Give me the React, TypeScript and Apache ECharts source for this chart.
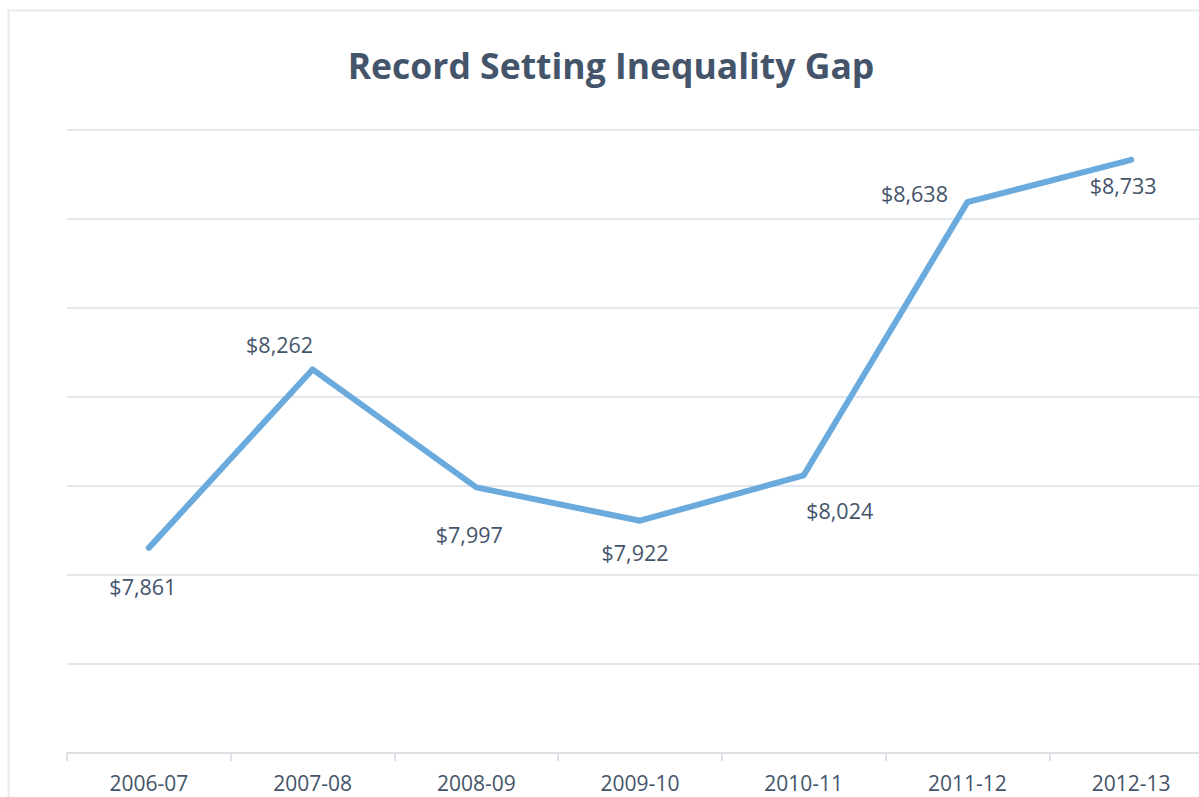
import React, { useEffect, useRef } from "react";
import * as echarts from "echarts";

const categories = ["2006-07", "2007-08", "2008-09", "2009-10", "2010-11", "2011-12", "2012-13"];
const gapValues = [7861, 8262, 7997, 7922, 8024, 8638, 8733];
const titleText = "Record Setting Inequality Gap";

// label offsets from each point (pixels), matching the reference placement
const labelOffsets: [number, number][] = [
  [-6, 39],
  [-33, -25],
  [-7, 47],
  [-5, 32],
  [36, 35],
  [-53, -9],
  [-8, 26],
];

const TEXT = "#44546A";
const FONT = "'Open Sans', 'Noto Sans', sans-serif";

export default function App() {
  const ref = useRef<HTMLDivElement>(null);
  useEffect(() => {
    if (!ref.current) return;
    const chart = echarts.init(ref.current, undefined, { renderer: "svg" });
    chart.setOption({
      animation: false,
      backgroundColor: "#ffffff",
      textStyle: { fontFamily: FONT },
      graphic: [
        {
          type: "rect",
          z: -10,
          shape: { x: 8.5, y: 10.5, width: 1400, height: 1000 },
          style: { fill: "none", stroke: "#E6E9EE", lineWidth: 2 },
          silent: true,
        },
        {
          type: "text",
          x: 611,
          y: 65,
          style: {
            text: titleText,
            align: "center",
            verticalAlign: "middle",
            font: `bold 35.5px ${FONT}`,
            fill: TEXT,
          },
        },
      ],
      grid: { left: 67, right: 0, top: 130, bottom: 44, containLabel: false },
      xAxis: {
        type: "category",
        data: categories,
        boundaryGap: true,
        axisLine: { show: true, lineStyle: { color: "#DDE0E5", width: 2 } },
        axisTick: { show: true, length: 8, lineStyle: { color: "#DDE0E5", width: 2 } },
        axisLabel: { color: TEXT, fontSize: 21, lineHeight: 18, margin: 21, fontFamily: FONT },
        splitLine: { show: false },
      },
      yAxis: {
        type: "value",
        min: 7400,
        max: 8800,
        interval: 200,
        axisLine: { show: false },
        axisTick: { show: false },
        axisLabel: { show: false },
        splitLine: { show: true, lineStyle: { color: "#E4E7EB", width: 2 } },
      },
      series: [
        {
          type: "line",
          data: gapValues.map((v, i) => ({
            value: v,
            label: { offset: labelOffsets[i] },
          })),
          symbol: "circle",
          symbolSize: 1,
          itemStyle: { color: "#6AAADC" },
          lineStyle: { color: "#6AAADC", width: 6, cap: "round", join: "round" },
          label: {
            show: true,
            position: "inside",
            color: TEXT,
            fontSize: 21.5,
            fontFamily: FONT,
            formatter: (p: any) => "$" + Number(p.value).toLocaleString("en-US"),
          },
        },
      ],
    });
    return () => chart.dispose();
  }, []);
  return (
    <div style={{ position: "absolute", left: 0, top: 0, width: 1199, height: 797, overflow: "hidden" }}>
      <div ref={ref} style={{ position: "absolute", left: 0, top: 0, width: 1213, height: 797 }} />
    </div>
  );
}
